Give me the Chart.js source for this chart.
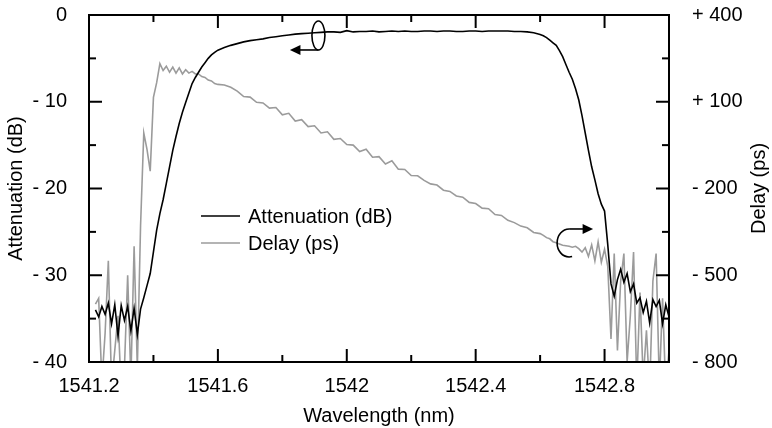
<!DOCTYPE html>
<html lang="en">
<head>
<meta charset="UTF-8" />
<title>Attenuation and delay vs wavelength</title>
<script src="https://cdn.jsdelivr.net/npm/chart.js"></script>
<style>
  html, body { margin: 0; padding: 0; background: #fff; }
  canvas { display: block; }
</style>
</head>
<body>
<canvas id="specChart" width="772" height="428"></canvas>
<script>
// wavelength grid (nm): 0.01 steps at the band edges, 0.02 across the passband
const wavelength = [
  1541.22, 1541.23, 1541.24, 1541.25, 1541.26, 1541.27, 1541.28, 1541.29, 1541.30, 1541.31,
  1541.32, 1541.33, 1541.34, 1541.35, 1541.36, 1541.37, 1541.38, 1541.39, 1541.40, 1541.41,
  1541.42, 1541.43, 1541.44, 1541.45, 1541.46, 1541.47, 1541.48, 1541.49, 1541.50, 1541.51,
  1541.52, 1541.53, 1541.54, 1541.55, 1541.56, 1541.57, 1541.58, 1541.59, 1541.60,
  1541.62, 1541.64, 1541.66, 1541.68, 1541.70, 1541.72, 1541.74, 1541.76, 1541.78, 1541.80,
  1541.82, 1541.84, 1541.86, 1541.88, 1541.90, 1541.92, 1541.94, 1541.96, 1541.98, 1542.00,
  1542.02, 1542.04, 1542.06, 1542.08, 1542.10, 1542.12, 1542.14, 1542.16, 1542.18, 1542.20,
  1542.22, 1542.24, 1542.26, 1542.28, 1542.30, 1542.32, 1542.34, 1542.36, 1542.38, 1542.40,
  1542.42, 1542.44, 1542.46, 1542.48, 1542.50, 1542.52, 1542.54, 1542.56, 1542.58, 1542.60,
  1542.61, 1542.62, 1542.63, 1542.64, 1542.65, 1542.66, 1542.67, 1542.68, 1542.69, 1542.70,
  1542.71, 1542.72, 1542.73, 1542.74, 1542.75, 1542.76, 1542.77, 1542.78, 1542.79, 1542.80,
  1542.81, 1542.82, 1542.83, 1542.84, 1542.85, 1542.86, 1542.87, 1542.88, 1542.89, 1542.90,
  1542.91, 1542.92, 1542.93, 1542.94, 1542.95, 1542.96, 1542.97, 1542.98, 1542.99, 1543.00
];

// attenuation (dB)
const attenuation = [
  -34.0, -34.8, -33.6, -34.5, -33.2, -35.6, -33.4, -37.0, -33.5, -35.2,
  -33.6, -36.4, -33.8, -36.8, -33.9, -32.6, -31.2, -29.8, -27.3, -24.8,
  -22.9, -21.3, -19.4, -17.5, -15.6, -14.0, -12.5, -11.2, -10.1, -9.0,
  -7.9, -7.2, -6.6, -6.0, -5.5, -5.0, -4.6, -4.3, -4.05,
  -3.75, -3.5, -3.3, -3.1, -2.95, -2.85, -2.75, -2.6, -2.5, -2.4,
  -2.3, -2.2, -2.15, -2.1, -2.05, -2.0, -1.95, -1.95, -2.0, -1.8,
  -1.95, -1.9, -1.9, -1.85, -1.95, -1.9, -1.85, -1.9, -1.85, -1.9,
  -1.9, -1.85, -1.85, -1.9, -1.85, -1.85, -1.9, -1.9, -1.85, -1.85,
  -1.9, -1.85, -1.85, -1.85, -1.85, -1.9, -1.9, -1.95, -2.05, -2.25,
  -2.4, -2.6, -2.9, -3.2, -3.5, -4.1, -4.8, -5.7, -6.6, -7.4,
  -8.5, -9.8, -11.6, -13.6, -15.6, -17.5, -19.0, -20.6, -21.8, -22.6,
  -26.5, -31.0, -32.4, -30.5, -29.3, -30.8, -29.8, -31.9, -31.0, -33.2,
  -32.6, -34.3, -33.0, -35.5, -32.8, -33.6, -32.9, -35.6, -33.4, -34.8
];

// group delay (ps)
const delay = [
  -600, -580, -870, -700, -450, -880, -760, -640, -900, -820,
  -500, -860, -400, -820, -330, -8, -65, -140, 115, 166,
  232, 208, 223, 202, 220, 199, 217, 196, 211, 199,
  205, 196, 196, 187, 184, 175, 172, 163, 160,
  158, 150, 137, 118, 116, 98, 96, 78, 80, 55,
  60, 33, 38, 14, 17, -8, -4, -30, -27, -48,
  -50, -72, -64, -92, -90, -115, -104, -133, -134, -155,
  -156, -172, -184, -188, -206, -210, -226, -230, -248, -252,
  -268, -270, -290, -293, -310, -318, -330, -336, -352, -356,
  -362, -370, -374, -384, -388, -392, -396, -398, -400, -403,
  -400, -408, -420, -405, -435, -395, -450, -385, -455, -410,
  -470, -720, -425, -760, -520, -425, -800, -640, -420, -880,
  -560, -860, -690, -900, -520, -425, -880, -580, -900, -760
];

const xTicks = [1541.2, 1541.6, 1542, 1542.4, 1542.8];
const xMinorTicks = [1541.4, 1541.8, 1542.2, 1542.6];
const attTicks = [0, -10, -20, -30, -40];
const attTickLabels = ['0', '- 10', '- 20', '- 30', '- 40'];
const attMinorTicks = [-5, -15, -25, -35];
const delayTicks = [400, 100, -200, -500, -800];
const delayTickLabels = ['+ 400', '+ 100', '- 200', '- 500', '- 800'];

const FONT = "'Liberation Sans', Arial, Helvetica, sans-serif";
Chart.defaults.font.family = FONT;
Chart.defaults.font.size = 20;
Chart.defaults.color = '#000';

// frame with inward ticks, legend, curl arrows and the right-hand title
const decorations = {
  id: 'decorations',
  afterDatasetsDraw(chart) {
    const ctx = chart.ctx;
    const a = chart.chartArea;
    const xs = chart.scales.x, ys = chart.scales.y;
    ctx.save();
    ctx.strokeStyle = '#000';
    ctx.fillStyle = '#000';
    ctx.lineWidth = 2;
    ctx.strokeRect(a.left, a.top, a.right - a.left, a.bottom - a.top);

    const seg = (x1, y1, x2, y2) => {
      ctx.beginPath(); ctx.moveTo(x1, y1); ctx.lineTo(x2, y2); ctx.stroke();
    };
    const xMark = (v, len) => {
      const p = xs.getPixelForValue(v);
      seg(p, a.bottom, p, a.bottom - len);
      seg(p, a.top, p, a.top + len);
    };
    const yMark = (v, len) => {
      const p = ys.getPixelForValue(v);
      seg(a.left, p, a.left + len, p);
      seg(a.right, p, a.right - len, p);
    };
    xTicks.forEach(v => xMark(v, 13));
    xMinorTicks.forEach(v => xMark(v, 7));
    attTicks.forEach(v => yMark(v, 13));
    attMinorTicks.forEach(v => yMark(v, 7));

    // legend
    ctx.font = '20px ' + FONT;
    ctx.textAlign = 'left';
    ctx.textBaseline = 'middle';
    chart.data.datasets.forEach((ds, i) => {
      const y = a.top + 201 + i * 27;
      ctx.strokeStyle = ds.borderColor;
      ctx.lineWidth = 1.6;
      seg(a.left + 112, y, a.left + 151, y);
      ctx.fillStyle = '#000';
      ctx.fillText(ds.label, a.left + 159, y + 1);
    });

    // curl arrow pointing to the attenuation axis
    ctx.strokeStyle = '#000';
    ctx.fillStyle = '#000';
    ctx.lineWidth = 1.6;
    let cx = xs.getPixelForValue(1541.912), cy = ys.getPixelForValue(-2.36);
    ctx.beginPath();
    ctx.ellipse(cx, cy, 6.5, 14.5, 0, 0, Math.PI * 2);
    ctx.stroke();
    seg(cx, cy + 14.5, cx - 19, cy + 14.5);
    ctx.beginPath();
    ctx.moveTo(cx - 28.5, cy + 14.5);
    ctx.lineTo(cx - 18, cy + 9.5);
    ctx.lineTo(cx - 18, cy + 19.5);
    ctx.closePath();
    ctx.fill();

    // curl arrow pointing to the delay axis
    cx = xs.getPixelForValue(1542.69); cy = ys.getPixelForValue(-26.28);
    ctx.beginPath();
    ctx.ellipse(cx, cy, 12, 14, 0, -Math.PI / 2, Math.PI * 0.42, true);
    ctx.stroke();
    seg(cx, cy - 14, cx + 15, cy - 14);
    ctx.beginPath();
    ctx.moveTo(cx + 24, cy - 14);
    ctx.lineTo(cx + 13.5, cy - 19);
    ctx.lineTo(cx + 13.5, cy - 9);
    ctx.closePath();
    ctx.fill();

    // right axis title, reading bottom to top
    ctx.translate(759, (a.top + a.bottom) / 2);
    ctx.rotate(-Math.PI / 2);
    ctx.textAlign = 'center';
    ctx.textBaseline = 'middle';
    ctx.fillText('Delay (ps)', 0, 0);
    ctx.restore();
  }
};

// fixed axis widths; the tick padding must not push the plot top down
const fitVertical = width => s => {
  s.width = width;
  s.paddingTop = 0;
  s.paddingBottom = 0;
};

new Chart(document.getElementById('specChart'), {
  type: 'line',
  data: {
    datasets: [
      {
        label: 'Attenuation (dB)',
        data: wavelength.map((w, i) => ({ x: w, y: attenuation[i] })),
        borderColor: '#000',
        borderWidth: 1.6,
        pointRadius: 0,
        yAxisID: 'y'
      },
      {
        label: 'Delay (ps)',
        data: wavelength.map((w, i) => ({ x: w, y: delay[i] })),
        borderColor: '#9b9b9b',
        borderWidth: 1.6,
        pointRadius: 0,
        yAxisID: 'y2'
      }
    ]
  },
  options: {
    responsive: false,
    animation: false,
    devicePixelRatio: 1,
    layout: { padding: { top: 15, left: 0, right: 0, bottom: 0 } },
    plugins: { legend: { display: false }, tooltip: { enabled: false } },
    scales: {
      x: {
        type: 'linear',
        min: 1541.2,
        max: 1543.0,
        grid: { display: false },
        border: { display: false },
        afterBuildTicks: s => { s.ticks = xTicks.map(v => ({ value: v })); },
        afterFit: s => { s.height = 66; },
        ticks: {
          padding: 4,
          maxRotation: 0,
          autoSkip: false,
          callback: v => String(+v.toFixed(1))
        },
        title: { display: true, text: 'Wavelength (nm)', padding: { top: 4, bottom: 0 } }
      },
      y: {
        position: 'left',
        min: -40,
        max: 0,
        grid: { display: false },
        border: { display: false },
        afterBuildTicks: s => { s.ticks = attTicks.map(v => ({ value: v })); },
        afterFit: fitVertical(89),
        ticks: { padding: 14, callback: (v, i) => attTickLabels[i] },
        title: { display: true, text: 'Attenuation (dB)', padding: { top: 4, bottom: 0 } }
      },
      y2: {
        position: 'right',
        min: -800,
        max: 400,
        grid: { display: false },
        border: { display: false },
        afterBuildTicks: s => { s.ticks = delayTicks.map(v => ({ value: v })); },
        afterFit: fitVertical(103),
        ticks: { padding: 15, callback: (v, i) => delayTickLabels[i] }
      }
    }
  },
  plugins: [decorations]
});
</script>
</body>
</html>
